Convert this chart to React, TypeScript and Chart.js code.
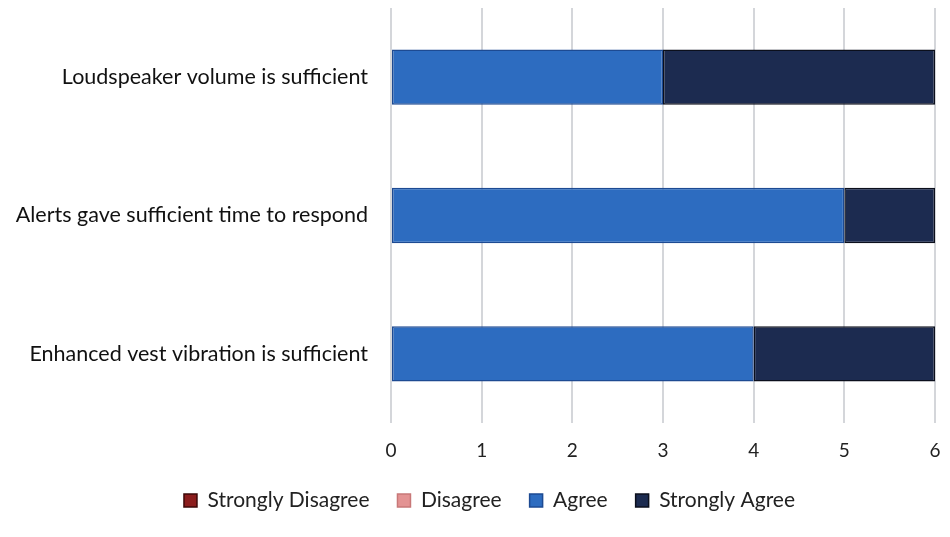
import React, { useEffect, useRef } from "react";
import { Chart, registerables } from "chart.js";

Chart.register(...registerables);

const categories = [
  "Loudspeaker volume is sufficient",
  "Alerts gave sufficient time to respond",
  "Enhanced vest vibration is sufficient",
];
const seriesNames = ["Strongly Disagree", "Disagree", "Agree", "Strongly Agree"];
const stronglyDisagree = [0, 0, 0];
const disagree = [0, 0, 0];
const agree = [3, 5, 4];
const stronglyAgree = [3, 1, 2];
const xTicks = [0, 1, 2, 3, 4, 5, 6];

const fillColors = ["#8c1d1d", "#e39393", "#2d6cc0", "#1c2b50"];
const borderColors = ["#3d0808", "#c87878", "#1d4a92", "#0b0f1c"];

const legendShift = {
  id: "legendShift",
  afterLayout(chart: any) {
    const l = chart.legend;
    if (l) {
      l.left += 22;
      l.right += 22;
    }
  },
};

export default function App() {
  const ref = useRef<HTMLCanvasElement | null>(null);
  useEffect(() => {
    if (!ref.current) return;
    const values = [stronglyDisagree, disagree, agree, stronglyAgree];
    const chart = new Chart(ref.current, {
      type: "bar",
      data: {
        labels: categories,
        datasets: seriesNames.map((name, i) => ({
          label: name,
          data: values[i],
          backgroundColor: fillColors[i],
          borderColor: borderColors[i],
          borderWidth: 1.5,
          borderSkipped: false,
          barPercentage: 0.8,
          categoryPercentage: 0.5,
        })),
      },
      plugins: [legendShift],
      options: {
        indexAxis: "y",
        animation: false,
        responsive: true,
        maintainAspectRatio: false,
        layout: { padding: { top: 8, right: 15, left: 0, bottom: 16 } },
        scales: {
          x: {
            stacked: true,
            min: 0,
            max: 6,
            afterBuildTicks: (axis: any) => {
              axis.ticks = xTicks.map((v) => ({ value: v }));
            },
            afterFit: (axis: any) => {
              axis.paddingLeft = 0;
              axis.paddingRight = 0;
              axis.height = 39;
            },
            grid: { color: "#d4d6da", lineWidth: 2, drawTicks: false },
            border: { display: false },
            ticks: {
              color: "#222",
              padding: 16,
              font: { family: "Lato", size: 19 },
            },
          },
          y: {
            stacked: true,
            grid: { display: false },
            border: { display: false },
            afterFit: (axis: any) => {
              axis.width = 391;
              axis.paddingTop = 0;
              axis.paddingBottom = 0;
            },
            ticks: {
              color: "#111",
              padding: 15,
              font: { family: "Lato", size: 21.5 },
            },
          },
        },
        plugins: {
          legend: {
            position: "bottom",
            labels: {
              boxWidth: 13,
              boxHeight: 13,
              padding: 28,
              color: "#222",
              font: { family: "Lato", size: 21 },
            },
          },
          tooltip: { enabled: false },
        },
      },
    });
    return () => chart.destroy();
  }, []);
  return (
    <div style={{ position: "absolute", left: 0, top: 0, width: 950, height: 537, background: "#fff" }}>
      <canvas ref={ref} />
    </div>
  );
}
